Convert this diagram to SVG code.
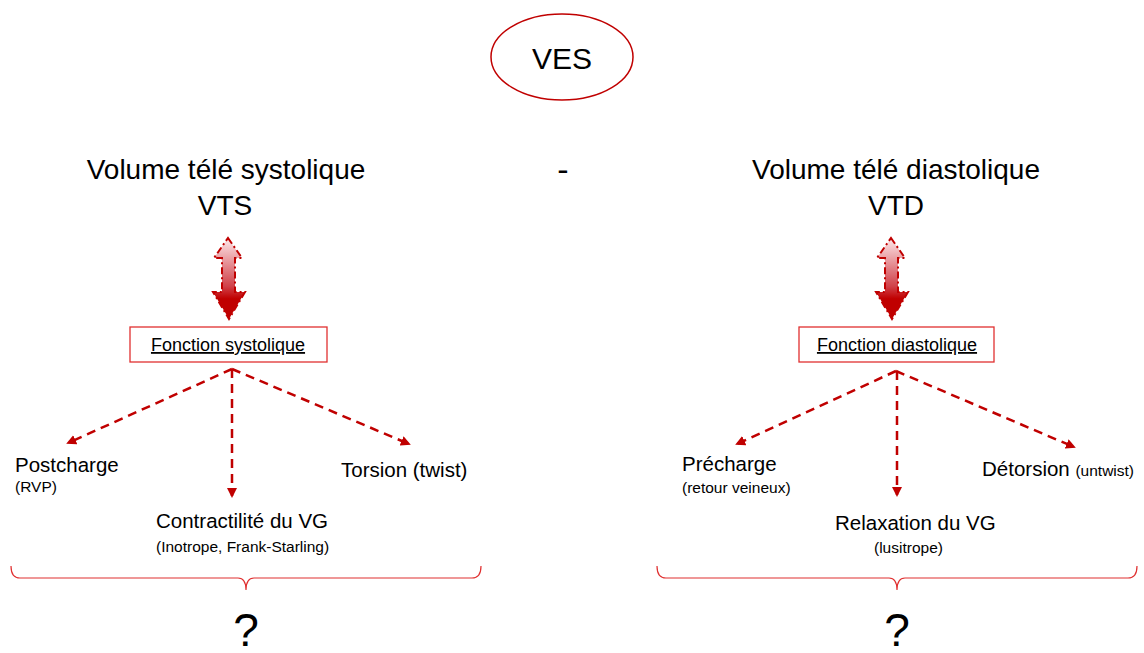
<svg xmlns="http://www.w3.org/2000/svg" width="1144" height="653" viewBox="0 0 1144 653">
<style>
text{font-family:"Liberation Sans","Open Sans",sans-serif;fill:#000}
.dash{stroke:#c00000;stroke-width:2.5;stroke-dasharray:9,6;fill:none}
.box{fill:#fff;stroke:#e03030;stroke-width:1.3}
.brace{fill:none;stroke:#e03030;stroke-width:1.2}
.big{font-size:28px}
.lab{font-size:20.5px}
.sub{font-size:15.5px}
.dbl{fill:url(#g);stroke:#c00000;stroke-width:2;stroke-dasharray:7,3,2,3}
</style>
<defs>
<linearGradient id="g" x1="0" y1="0" x2="0" y2="1">
<stop offset="0" stop-color="#fde8ea"/>
<stop offset="0.6" stop-color="#d04048"/>
<stop offset="0.75" stop-color="#c00000"/>
<stop offset="1" stop-color="#c00000"/>
</linearGradient>
<marker id="ah" viewBox="0 0 10 10" refX="8" refY="5" markerWidth="4" markerHeight="4" orient="auto">
<path d="M0,0 L10,5 L0,10 z" fill="#c00000"/>
</marker>
</defs>
<g id="ves">
<ellipse cx="562" cy="57" rx="71" ry="43" fill="#fff" stroke="#c00000" stroke-width="1.5"/>
<text x="562" y="69" font-size="30" text-anchor="middle">VES</text>
</g>
<g id="minus"><text x="563" y="181" font-size="34" text-anchor="middle">-</text></g>
<g id="vts">
<text class="big" x="226" y="179" text-anchor="middle">Volume télé systolique</text>
<text class="big" x="225" y="215" text-anchor="middle">VTS</text>
</g>
<g id="vtd">
<text class="big" x="896" y="179" text-anchor="middle">Volume télé diastolique</text>
<text class="big" x="896" y="215" text-anchor="middle">VTD</text>
</g>
<g id="dbl-left">
<path class="dbl" d="M228,238 L242,258 L235,258 L235,292 L245,292 L229,319 L213,292 L222,292 L222,258 L214,258 Z"/>
</g>
<g id="dbl-right">
<path class="dbl" d="M891,238 L905,258 L898,258 L898,292 L908,292 L892,319 L876,292 L885,292 L885,258 L877,258 Z"/>
</g>
<g id="fsys">
<rect class="box" x="130" y="327" width="197" height="35"/>
<text x="228" y="351" font-size="18" text-anchor="middle" text-decoration="underline">Fonction systolique</text>
</g>
<g id="fdia">
<rect class="box" x="799" y="327" width="195" height="35"/>
<text x="897" y="351" font-size="18" text-anchor="middle" text-decoration="underline">Fonction diastolique</text>
</g>
<g id="connectors">
<line class="dash" x1="232" y1="369" x2="68" y2="443" marker-end="url(#ah)"/>
<line class="dash" x1="232" y1="369" x2="232" y2="496" marker-end="url(#ah)"/>
<line class="dash" x1="232" y1="369" x2="409" y2="444" marker-end="url(#ah)"/>
<line class="dash" x1="896" y1="371" x2="737" y2="444" marker-end="url(#ah)"/>
<line class="dash" x1="897" y1="371" x2="897" y2="495" marker-end="url(#ah)"/>
<line class="dash" x1="896" y1="371" x2="1074" y2="447" marker-end="url(#ah)"/>
</g>
<g id="postcharge">
<text class="lab" x="15" y="472">Postcharge</text>
<text class="sub" x="15" y="492">(RVP)</text>
</g>
<g id="torsion"><text class="lab" x="341" y="477">Torsion (twist)</text></g>
<g id="contract">
<text class="lab" x="156" y="528">Contractilité du VG</text>
<text class="sub" x="156" y="552">(Inotrope, Frank-Starling)</text>
</g>
<g id="precharge">
<text class="lab" x="682" y="471">Précharge</text>
<text class="sub" x="682" y="493">(retour veineux)</text>
</g>
<g id="detorsion"><text class="lab" x="982" y="476">Détorsion <tspan font-size="15.5">(untwist)</tspan></text></g>
<g id="relax">
<text class="lab" x="835" y="530">Relaxation du VG</text>
<text class="sub" x="874" y="553">(lusitrope)</text>
</g>
<g id="brace-left">
<path class="brace" d="M11,566 Q11,578 20,578 L238,578 Q246,578 246,590 Q246,578 254,578 L472,578 Q481,578 481,566"/>
<text x="246" y="646" font-size="46" text-anchor="middle">?</text>
</g>
<g id="brace-right">
<path class="brace" d="M657,566 Q657,578 666,578 L889,578 Q897,578 897,590 Q897,578 905,578 L1128,578 Q1137,578 1137,566"/>
<text x="897" y="646" font-size="46" text-anchor="middle">?</text>
</g>
</svg>
